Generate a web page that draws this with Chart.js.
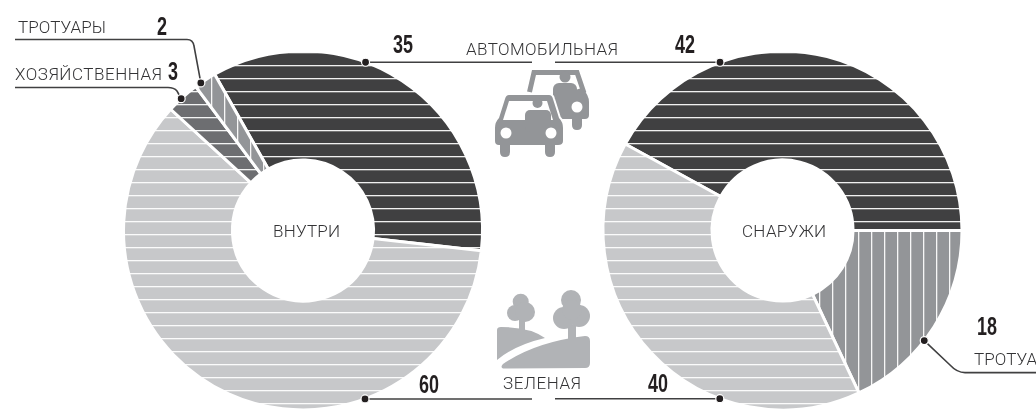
<!DOCTYPE html>
<html lang="ru">
<head>
<meta charset="utf-8">
<title>Внутри и снаружи</title>
<script src="https://cdn.jsdelivr.net/npm/chart.js@4"></script>
<style>
  html, body { margin: 0; padding: 0; background: #fff; }
  #stage { position: relative; width: 1036px; height: 419px; overflow: hidden; }
  canvas { position: absolute; }
  #insideChart { left: 104px; top: 39px; }
  #outsideChart { left: 585px; top: 39px; }
  #overlay { position: absolute; left: 0; top: 0; }
  .label { font: 300 17px Roboto, sans-serif; fill: #333335; }
  .num { font: 700 25px "Liberation Sans", sans-serif; fill: #231f20; }
  .leader { fill: none; stroke: #404041; stroke-width: 1.6; }
  .dot { fill: #231f20; stroke: #fff; stroke-width: 1.2; }
</style>
</head>
<body>
<div id="stage">
  <canvas id="insideChart" width="398" height="383"></canvas>
  <canvas id="outsideChart" width="395" height="383"></canvas>
  <svg id="overlay" width="1036" height="419" xmlns="http://www.w3.org/2000/svg"></svg>
</div>
<script>
const insideLabels = ['Автомобильная', 'Зеленая', 'Хозяйственная', 'Тротуары'];
const insideValues = [35, 60, 3, 2];
const outsideLabels = ['Автомобильная', 'Тротуары', 'Зеленая'];
const outsideValues = [42, 18, 40];

const DARK = '#404041';
const GREEN = '#c7c8ca';
const SERVICE = '#6d6e71';
const WALK = '#939598';

// stripes repeat every 13px, canvases sit on multiples of 13
function stripes(color, vertical, shift) {
  const c = document.createElement('canvas');
  c.width = 13;
  c.height = 13;
  const g = c.getContext('2d');
  g.fillStyle = color;
  g.fillRect(0, 0, 13, 13);
  g.fillStyle = 'rgba(255,255,255,0.92)';
  if (vertical) {
    g.fillRect(shift, 0, 1.3, 13);
  } else {
    g.fillRect(0, shift, 13, 1.3);
  }
  return g.createPattern(c, 'repeat');
}

function makeDonut(id, labels, values, colors, rotation) {
  return new Chart(document.getElementById(id), {
    type: 'doughnut',
    data: {
      labels: labels,
      datasets: [{
        data: values,
        backgroundColor: colors,
        borderColor: '#fff',
        borderWidth: 3
      }]
    },
    options: {
      responsive: false,
      animation: false,
      rotation: rotation,
      radius: 179.5,
      cutout: '39.3%',
      events: [],
      layout: { padding: 0 },
      plugins: { legend: { display: false }, tooltip: { enabled: false } }
    }
  });
}

const insideChart = makeDonut('insideChart', insideLabels, insideValues,
  [stripes(DARK, false, 0), stripes(GREEN, false, 0), stripes(SERVICE, false, 0), stripes(WALK, true, 3)], -29.5);
const outsideChart = makeDonut('outsideChart', outsideLabels, outsideValues,
  [stripes(DARK, false, 0), stripes(WALK, true, 0), stripes(GREEN, false, 0)], -61.2);

// point on the outer edge of a slice, in page coordinates
function edgePoint(chart, index, t) {
  const arc = chart.getDatasetMeta(0).data[index];
  const a = arc.startAngle + (arc.endAngle - arc.startAngle) * t;
  const r = arc.outerRadius;
  return [
    chart.canvas.offsetLeft + arc.x + Math.cos(a) * r,
    chart.canvas.offsetTop + arc.y + Math.sin(a) * r
  ];
}

const svg = document.getElementById('overlay');
const NS = 'http://www.w3.org/2000/svg';

function add(tag, attrs, text) {
  const el = document.createElementNS(NS, tag);
  Object.keys(attrs).forEach(k => el.setAttribute(k, attrs[k]));
  if (text !== undefined) el.textContent = text;
  svg.appendChild(el);
  return el;
}

function label(text, x, y, width) {
  add('text', { x: x, y: y, class: 'label', textLength: width }, text);
}

// the narrow bold figures: squeeze to the width
function number(value, x, y) {
  add('text', {
    x: x, y: y, class: 'num',
    textLength: String(value).length * 10,
    lengthAdjust: 'spacingAndGlyphs'
  }, value);
}

function leader(path, p) {
  add('path', { d: path, class: 'leader' });
  add('circle', { cx: p[0], cy: p[1], r: 4, class: 'dot' });
}

// leaders
const p35 = edgePoint(insideChart, 0, 0.396);
const p60 = edgePoint(insideChart, 1, 0.293);
const p3 = edgePoint(insideChart, 2, 0.44);
const p2 = edgePoint(insideChart, 3, 0.28);
const p42 = edgePoint(outsideChart, 0, 0.27);
const p18 = edgePoint(outsideChart, 1, 0.584);
const p40 = edgePoint(outsideChart, 2, 0.317);

leader(`M${p35[0]} ${p35[1]}H532`, p35);
leader(`M555 ${p42[1]}H${p42[0]}`, p42);
leader(`M${p60[0]} ${p60[1]}H532`, p60);
leader(`M555 ${p40[1]}H${p40[0]}`, p40);
leader(`M15 39.5H187Q193 39.5 194 46L${p2[0]} ${p2[1]}`, p2);
leader(`M15 87.5H168Q174 87.5 177 91L${p3[0]} ${p3[1]}`, p3);
leader(`M${p18[0]} ${p18[1]}L950 365Q957 372.6 965 372.6H1036`, p18);

// texts
label('ТРОТУАРЫ', 18, 33, 88);
label('ХОЗЯЙСТВЕННАЯ', 15, 80, 147);
label('АВТОМОБИЛЬНАЯ', 466, 55, 152);
label('ЗЕЛЕНАЯ', 503, 389, 78);
label('ВНУТРИ', 273, 237, 67);
label('СНАРУЖИ', 742, 237, 84);
label('ТРОТУАРЫ', 974, 365, 88);
number(insideValues[3], 157, 35);
number(insideValues[2], 168, 80);
number(insideValues[0], 393, 53);
number(outsideValues[0], 675, 53);
number(insideValues[1], 419, 393);
number(outsideValues[2], 648, 392);
number(outsideValues[1], 977, 335);

// car icon
const CAR = '#939598';
add('path', { d: 'M529.5 92L534 72.5H577L584 93', fill: 'none', stroke: CAR, 'stroke-width': 5 });
add('path', { d: 'M582 88Q589 95 589 102V115Q589 119 585 119H582V125Q582 130 577 130Q572 130 572 125V119H560V110H575V90Z', fill: CAR });
add('rect', { x: 553, y: 83, width: 24, height: 35, rx: 6, fill: CAR });
add('circle', { cx: 565, cy: 77, r: 5.5, fill: CAR });
add('circle', { cx: 577, cy: 107, r: 5.5, fill: '#fff' });
add('path', {
  d: 'M509 95H549Q552 95 553 99L559 118Q563 122 563 128V141Q563 145 558 145H555V152Q555 157 550 157Q545 157 545 152V145H510V152Q510 157 505 157Q500 157 500 152V145H499Q495 145 495 141V128Q495 122 499 118L505 99Q506 95 509 95Z',
  fill: CAR, stroke: '#fff', 'stroke-width': 4, 'paint-order': 'stroke'
});
add('path', { d: 'M509 101H547L553 120H503Z', fill: '#fff' });
add('circle', { cx: 537.5, cy: 103, r: 5, fill: CAR });
add('rect', { x: 525, y: 110, width: 26, height: 22, rx: 5, fill: CAR });
add('circle', { cx: 506, cy: 133, r: 5.5, fill: '#fff' });
add('circle', { cx: 551, cy: 133, r: 5.5, fill: '#fff' });

// tree icon
const TREE = '#b1b3b6';
add('path', { d: 'M497 330Q497 327 501 327Q530 327 545 338Q515 345 497 360Z', fill: TREE });
add('path', { d: 'M503 368.5Q500 367 503 364Q535 342 585 336Q590 336 590 341V363Q590 368 585 368Z', fill: TREE });
add('rect', { x: 519, y: 318, width: 6, height: 14, fill: TREE });
add('circle', { cx: 520.7, cy: 301.7, r: 8, fill: TREE });
add('circle', { cx: 515, cy: 313, r: 8, fill: TREE });
add('circle', { cx: 525, cy: 312, r: 10, fill: TREE });
add('rect', { x: 568, y: 325, width: 8, height: 14, fill: TREE });
add('circle', { cx: 571, cy: 300, r: 10, fill: TREE });
add('circle', { cx: 564, cy: 318, r: 11, fill: TREE });
add('circle', { cx: 579, cy: 316, r: 11, fill: TREE });
add('circle', { cx: 572, cy: 310, r: 10, fill: TREE });
</script>
</body>
</html>
